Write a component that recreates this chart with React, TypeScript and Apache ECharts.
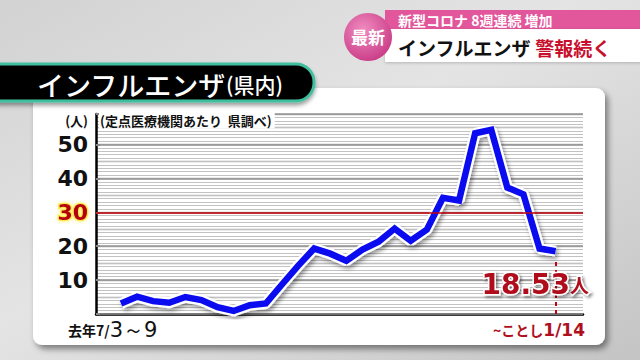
import React, { useEffect, useRef } from "react";
import * as echarts from "echarts";

// Weekly influenza patients per sentinel medical institution (県内), 去年7/3～9 … ことし1/8～14
const weekIndex = Array.from({ length: 28 }, (_, i) => i);
const perSite = [
  3.1, 5.1, 3.8, 3.3, 5.0, 4.1, 2.0, 0.9, 2.6, 3.1, 8.7, 14.2, 19.3, 17.8,
  15.7, 19.0, 21.3, 25.2, 21.6, 24.9, 34.3, 33.5, 53.3, 54.3, 37.3, 35.3, 19.3, 18.53,
];
const alertLevel = 30;
const yTicks = [10, 20, 30, 40, 50];
const firstLabel = ["去年7/", "3～9"];
const lastLabel = ["~ことし", "1/14"];
const titleText = ["インフルエンザ", "(県内)"];
const unitText = "(人)";
const sourceText = "(定点医療機関あたり  県調べ)";
const headline = ["新型コロナ 8週連続 増加", "インフルエンザ", "警報続く", "最新"];

export default function App() {
  const ref = useRef<HTMLDivElement>(null);
  useEffect(() => {
    if (!ref.current) return;
    const chart = echarts.init(ref.current, null, { renderer: "svg" });
    const data = weekIndex.map((i) => [i, perSite[i]]);
    const lastIdx = weekIndex[weekIndex.length - 1];
    const lastVal = perSite[perSite.length - 1];
    const jp = '"Noto Sans CJK JP", sans-serif';
    const num = '"DejaVu Sans", sans-serif';
    const red = "#b0101e";
    const outline = {
      stroke: "#fff", lineWidth: 3,
      textShadowColor: "rgba(0,0,0,0.45)", textShadowBlur: 3, textShadowOffsetX: 2, textShadowOffsetY: 2,
    };
    chart.setOption({
      animation: false,
      backgroundColor: {
        type: "linear", x: 0, y: 0, x2: 1, y2: 1,
        colorStops: [
          { offset: 0, color: "#d2d2d2" },
          { offset: 0.45, color: "#e4e4e4" },
          { offset: 0.7, color: "#d6d6d6" },
          { offset: 1, color: "#c4c4c4" },
        ],
      },
      grid: { left: 96, right: 57, top: 114, bottom: 46 },
      xAxis: {
        type: "value",
        min: -1.55,
        max: 28.7,
        axisLine: { show: true, onZero: false, lineStyle: { color: "#000", width: 2.5 } },
        axisTick: { show: false },
        axisLabel: { show: false },
        splitLine: { show: false },
      },
      yAxis: [
        {
          type: "value",
          min: 0,
          max: 59,
          interval: 10,
          z: 1,
          axisLine: { show: true, onZero: false, lineStyle: { color: "#000", width: 2.5 } },
          axisTick: { show: true, inside: true, length: 4, lineStyle: { color: "#888", width: 2 } },
          minorTick: { show: false, splitNumber: 10 },
          minorSplitLine: { show: true, lineStyle: { color: "#c2c2c2", width: 1.1 } },
          splitLine: { show: true, lineStyle: { color: "#959595", width: 1.6 } },
          axisLabel: {
            margin: 8,
            formatter: (v: number) =>
              yTicks.includes(v) ? (v === alertLevel ? `{r|${v}}` : `{n|${v}}`) : "",
            rich: {
              n: { fontFamily: num, fontWeight: "bold", fontSize: 22, color: "#111" },
              r: {
                fontFamily: num, fontWeight: "bold", fontSize: 22, color: "#b5000c",
                textBorderColor: "#ffe94a", textBorderWidth: 2.5,
                textShadowColor: "#fff27a", textShadowBlur: 4,
              },
            },
          },
        },
        {
          type: "value",
          min: 0,
          max: 59,
          interval: 5,
          position: "left",
          z: 0,
          axisLine: { show: false },
          axisTick: { show: false },
          axisLabel: { show: false },
          splitLine: { show: true, lineStyle: { color: "#acacac", width: 1.4 } },
        },
      ],
      graphic: [
        {
          type: "rect", z: -10,
          shape: { x: 33, y: 88, width: 572, height: 257, r: 9 },
          style: { fill: "#fff", shadowColor: "rgba(0,0,0,0.45)", shadowBlur: 6, shadowOffsetX: 3, shadowOffsetY: 4 },
        },
        {
          type: "rect", z: 50,
          shape: { x: -20, y: 64, width: 334, height: 37, r: 18 },
          style: { fill: "#060606", stroke: "#3fbf9f", lineWidth: 3, shadowColor: "rgba(0,0,0,0.4)", shadowBlur: 4, shadowOffsetY: 3 },
        },
        {
          type: "text", z: 51, x: 37, y: 84,
          style: {
            text: `{a|${titleText[0]}}{b|${titleText[1]}}`,
            verticalAlign: "middle",
            rich: {
              a: { fontFamily: jp, fontSize: 27, fontWeight: 500, fill: "#fff" },
              b: { fontFamily: jp, fontSize: 21, fontWeight: 500, fill: "#fff" },
            },
          },
        },
        {
          type: "text", z: 50, x: 88, y: 120,
          style: { text: unitText, fontFamily: jp, fontSize: 13, fontWeight: "bold", fill: "#111", align: "right", verticalAlign: "middle" },
        },
        {
          type: "text", z: 50, x: 99, y: 120,
          style: {
            text: sourceText, fontFamily: jp, fontSize: 13, fontWeight: "bold", fill: "#111",
            verticalAlign: "middle", backgroundColor: "#fff", padding: [2, 3, 2, 1],
          },
        },
        // header
        {
          type: "rect", z: 50,
          shape: { x: 385, y: 10, width: 260, height: 19 },
          style: { fill: "#e2569b" },
        },
        {
          type: "rect", z: 50,
          shape: { x: 385, y: 29, width: 260, height: 33 },
          style: { fill: "#fff", shadowColor: "rgba(0,0,0,0.2)", shadowBlur: 3, shadowOffsetY: 1 },
        },
        {
          type: "text", z: 51, x: 398, y: 20,
          style: { text: headline[0], fontFamily: jp, fontSize: 14, fontWeight: "bold", fill: "#fff", verticalAlign: "middle" },
        },
        {
          type: "text", z: 51, x: 398, y: 47,
          style: {
            text: `{a|${headline[1]}}{b| ${headline[2]}}`,
            verticalAlign: "middle",
            rich: {
              a: { fontFamily: jp, fontSize: 19, fontWeight: "bold", fill: "#111" },
              b: { fontFamily: jp, fontSize: 19, fontWeight: "bold", fill: "#c8102e" },
            },
          },
        },
        {
          type: "circle", z: 52,
          shape: { cx: 368, cy: 37, r: 24 },
          style: {
            fill: {
              type: "radial", x: 0.4, y: 0.35, r: 0.7,
              colorStops: [
                { offset: 0, color: "#f08cc0" },
                { offset: 1, color: "#c93b86" },
              ],
            },
          },
        },
        {
          type: "text", z: 53, x: 368, y: 36,
          style: { text: headline[3], fontFamily: jp, fontSize: 17, fontWeight: "bold", fill: "#fff", align: "center", verticalAlign: "middle" },
        },
        // x end labels
        {
          type: "text", z: 50, x: 68, y: 330,
          style: {
            text: `{a|${firstLabel[0]}}{b|${firstLabel[1]}}`,
            verticalAlign: "middle",
            rich: {
              a: { fontFamily: jp, fontSize: 14, fontWeight: "bold", fill: "#111" },
              b: { fontFamily: num, fontSize: 21, fill: "#111" },
            },
          },
        },
        {
          type: "text", z: 50, x: 585, y: 330,
          style: {
            text: `{a|${lastLabel[0]}}{b|${lastLabel[1]}}`,
            align: "right",
            verticalAlign: "middle",
            rich: {
              a: { fontFamily: jp, fontSize: 14, fontWeight: "bold", fill: red },
              b: { fontFamily: num, fontSize: 17, fontWeight: "bold", fill: red },
            },
          },
        },
        // latest value
        {
          type: "text", z: 60, x: 589, y: 284,
          style: {
            text: `{a|${lastVal}}{b|人}`,
            align: "right",
            verticalAlign: "middle",
            rich: {
              a: { fontFamily: num, fontSize: 28, fontWeight: "bold", fill: red, ...outline },
              b: { fontFamily: jp, fontSize: 19, fontWeight: "bold", fill: red, ...outline },
            },
          },
        },
      ],
      series: [
        {
          type: "line",
          z: 2,
          data,
          symbol: "none",
          silent: true,
          lineStyle: {
            color: "#fff", width: 11,
            shadowColor: "rgba(0,0,0,0.4)", shadowBlur: 4, shadowOffsetX: 2, shadowOffsetY: 3,
          },
          markLine: {
            silent: true,
            symbol: "none",
            label: { show: false },
            data: [
              { yAxis: alertLevel, lineStyle: { color: "#c4000c", width: 1.5, type: "solid" } },
            ],
          },
        },
        {
          type: "line",
          z: 3,
          data,
          symbol: "none",
          silent: true,
          lineStyle: { color: "#0b0bf0", width: 6.5, join: "miter" },
          markLine: {
            silent: true,
            symbol: "none",
            label: { show: false },
            data: [
              [
                { coord: [lastIdx, 0], lineStyle: { color: "#c4000c", width: 2, type: [4, 4] } },
                { coord: [lastIdx, lastVal - 3] },
              ],
            ],
          },
        },
      ],
    });
    return () => chart.dispose();
  }, []);
  return <div ref={ref} style={{ position: "fixed", left: 0, top: 0, width: 640, height: 360 }} />;
}
